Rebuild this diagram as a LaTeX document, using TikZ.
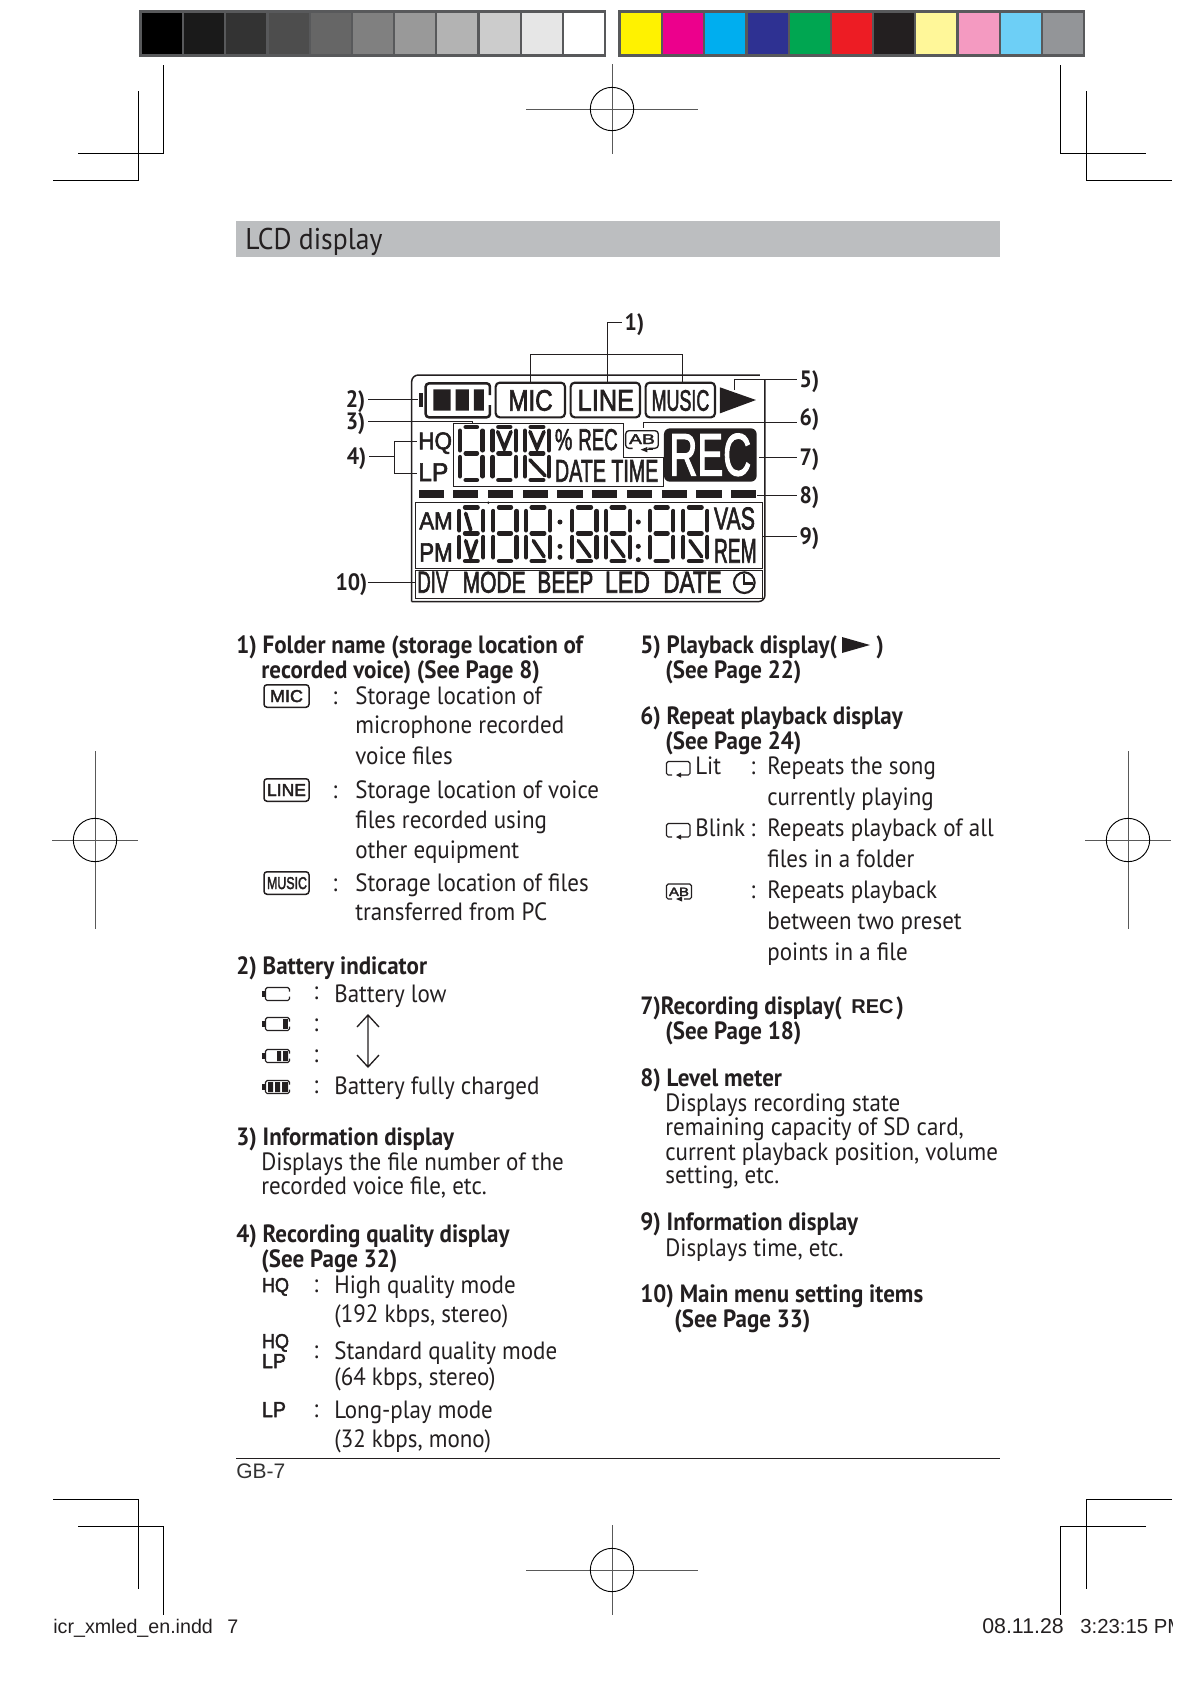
\documentclass[tikz,border=0pt]{standalone}
\usepackage{graphicx}
\usepackage{fontspec}
\setmainfont[FakeStretch=0.92]{PT Sans}
\newfontfamily\lcdf{Liberation Sans}
\newfontfamily\lcdb[FakeBold=2.4]{Liberation Sans}
\definecolor{ink}{HTML}{231F20}
\definecolor{frameg}{HTML}{58595B}
\definecolor{band}{HTML}{BCBEC0}
\newcount\nn
\tikzset{
  txt/.style={anchor=base west,inner sep=0pt,text=ink,font=\fontsize{15}{15}\selectfont},
  fit/.style={anchor=base,inner sep=0pt,text=ink,font=\lcdb},
  crop/.style={line width=0.55pt,black},
  regl/.style={line width=0.55pt,black!65},
  conn/.style={line width=0.6pt,ink},
  lab/.style={inner xsep=1.6pt,inner ysep=0pt,text height=10pt,text depth=0.2pt,text=ink,font=\fontsize{14.2}{14.2}\selectfont\bfseries},
  seg/.style={line width=2.6pt,line cap=round,ink},
  tseg/.style={line width=2.2pt,line cap=round,ink},
  lbox/.style={draw=ink,rounded corners=2.4pt,line width=1.3pt,inner sep=0pt},
  sbox/.style={draw=ink,rounded corners=1.8pt,line width=0.9pt,inner sep=0pt,minimum width=27pt,minimum height=13.5pt},
  icon/.style={line width=0.7pt,ink,rounded corners=1pt},
}
% text at baseline, page pixels
\newcommand{\TX}[3]{\global\advance\nn 1 \node[txt] (t\the\nn) at ({#1-1},{#2+1}) {#3};}
% text fitted to a box (in LCD units): x1, top, x2, baseline
\newcommand{\FT}[5]{\global\advance\nn 1 \node[fit] (t\the\nn) at ({(#1+#3)/2},#4) {\resizebox{\dimexpr 0.2pt*\numexpr#3-#1\relax\relax}{\dimexpr 0.2pt*\numexpr#4-#2\relax\relax}{#5}};}
% text fitted, page pixels
\newcommand{\FP}[5]{\global\advance\nn 1 \node[fit] (t\the\nn) at ({(#1+#3)/2},#4) {\resizebox{\dimexpr 0.6pt*\numexpr#3-#1\relax\relax}{\dimexpr 0.6pt*\numexpr#4-#2\relax\relax}{#5}};}
% 7-segment digit, LCD units: xl xr top mid bottom
\newcommand{\DG}[5]{%
  \draw[seg] (#1,#3+11) -- (#1,#4-9) (#1,#4+11) -- (#1,#5-11)
             (#2,#3+11) -- (#2,#4-9) (#2,#4+11) -- (#2,#5-11);
  \draw[seg] (#1+17,#3) -- (#2-17,#3) (#1+17,#4) -- (#2-17,#4) (#1+17,#5) -- (#2-17,#5);}
% battery icon, page pixels: left x, centre y
\newcommand{\BATT}[2]{%
  \fill[ink] (#1,#2-3) rectangle (#1+2.5,#2+3);
  \draw[icon] (#1+27.5,#2-2.5) -- (#1+27.5,#2-6.5) -- (#1+3.5,#2-6.5) -- (#1+3.5,#2+6.5) -- (#1+27.5,#2+6.5) -- (#1+27.5,#2+2.5);}
% repeat icon, page pixels
\newcommand{\RPT}[2]{%
  \draw[icon] (#1+6,#2+14) -- (#1+0.5,#2+14) -- (#1+0.5,#2+0.5) -- (#1+24,#2+0.5) -- (#1+24,#2+14) -- (#1+14,#2+14);
  \fill[ink] (#1+10,#2+14) -- (#1+15,#2+11.5) -- (#1+15,#2+16.5) -- cycle;}
\begin{document}
\begin{tikzpicture}[x=0.6pt,y=-0.6pt]
\useasboundingbox (0,0) rectangle (1191,1684);
% colour bars
\fill[frameg] (139,10) rectangle (606,57);
\fill[frameg] (618,10) rectangle (1085,57);
\foreach \c [count=\i from 0] in {000000,1A1A1A,333333,4D4D4D,666666,808080,999999,B3B3B3,CCCCCC,E6E6E6,FFFFFF}{
  \definecolor{sw}{HTML}{\c}\fill[sw] ({142+42.2*\i},13) rectangle ({182+42.2*\i},54);}
\foreach \c [count=\i from 0] in {FFF200,EC008C,00AEEF,2E3192,00A651,ED1C24,231F20,FFF799,F49AC1,6DCFF6,939598}{
  \definecolor{sw}{HTML}{\c}\fill[sw] ({621+42.2*\i},13) rectangle ({661+42.2*\i},54);}
% crop marks
\draw[crop] (163,65) -- (163,153) -- (78,153);
\draw[crop] (138,91) -- (138,180) -- (53,180);
\draw[crop] (1060,65) -- (1060,153) -- (1146,153);
\draw[crop] (1086,91) -- (1086,180) -- (1172,180);
\draw[crop] (53,1499) -- (138,1499) -- (138,1589);
\draw[crop] (78,1526) -- (163,1526) -- (163,1615);
\draw[crop] (1172,1499) -- (1086,1499) -- (1086,1589);
\draw[crop] (1146,1526) -- (1060,1526) -- (1060,1615);
% registration marks
\foreach \cx/\cy in {612/109,612/1570}{
  \draw[regl] (\cx-86,\cy) -- (\cx+86,\cy);
  \draw[regl] (\cx,\cy-45) -- (\cx,\cy+45);
  \draw[crop] (\cx,\cy) circle[radius=13pt];
}
\foreach \cx/\cy in {95/840,1128/840}{
  \draw[regl] (\cx-43,\cy) -- (\cx+43,\cy);
  \draw[regl] (\cx,\cy-89) -- (\cx,\cy+89);
  \draw[crop] (\cx,\cy) circle[radius=13pt];
}
% band
\fill[band] (236,221) rectangle (1000,257);
\TX{246}{248}{\fontsize{18}{18}\selectfont LCD display}
% LCD
\begin{scope}[shift={(192pt,-180pt)},x=0.2pt,y=-0.2pt]
  \draw[line width=0.9pt,ink,rounded corners=4pt] (275,905) -- (275,225) -- (1320,225);
  \draw[line width=0.9pt,ink,rounded corners=4pt] (1335,240) -- (1335,905) -- (275,905);
  % battery
  \fill[ink] (296,280) rectangle (310,320);
  \draw[line width=1.5pt,ink,rounded corners=2pt] (510,285) -- (510,250) -- (317,250) -- (317,352) -- (510,352) -- (510,315);
  \fill[ink] (340,268) rectangle (392,332) (407,268) rectangle (447,332) (462,268) rectangle (492,332);
  % folder boxes
  \node[lbox,minimum width=41.6pt,minimum height=20.8pt] (mic) at (631,300) {};
  \node[lbox,minimum width=41.6pt,minimum height=20.8pt] (line) at (856,300) {};
  \node[lbox,minimum width=41.6pt,minimum height=20.8pt] (music) at (1081,300) {};
  \FT{565}{270}{698}{332}{MIC}
  \FT{773}{270}{942}{332}{LINE}
  \FT{995}{270}{1168}{332}{MUSIC}
  \fill[ink] (1200,262) -- (1308,300) -- (1200,340) -- cycle;
  % text
  \FT{295}{397}{396}{448}{HQ}
  \FT{295}{490}{385}{543}{LP}
  \draw[line width=0.6pt,ink] (400,370) -- (910,370) -- (910,473) -- (1030,473) -- (1030,560) -- (400,560) -- cycle;
  \FT{705}{387}{757}{450}{\%}
  \FT{775}{387}{893}{450}{REC}
  \FT{705}{480}{1015}{545}{DATE TIME}
  % digits, info display
  \foreach \a/\b in {420/488,518/588,615/687}{\DG{\a}{\b}{381}{460}{540}}
  \draw[tseg] (533,395) -- (553,445) -- (573,395) (630,395) -- (651,445) -- (672,395) (630,480) -- (675,527);
  % AB
  \draw[line width=0.8pt,ink,rounded corners=2pt] (938,445) -- (917,445) -- (917,392) -- (1015,392) -- (1015,445) -- (985,445);
  \fill[ink] (962,449) -- (982,441) -- (982,457) -- cycle;
  \draw[line width=0.8pt,ink] (980,449) -- (1000,449);
  \global\advance\nn 1 \node[fit] (t\the\nn) at (966,432) {\resizebox{15.5pt}{5.8pt}{AB}};
  % REC
  \fill[ink,rounded corners=3.5pt] (1032,385) rectangle (1310,545);
  \global\advance\nn 1 \node[fit,text=white] (t\the\nn) at (1171,526) {\resizebox{49pt}{25pt}{REC}};
  % level meter
  \foreach \a/\b in {296/372,399/474,504/579,609/684,712/789,817/892,921/996,1027/1101,1129/1205,1233/1308}{\fill[ink] (\a,570) rectangle (\b,593);}
  % box 9
  \draw[line width=0.6pt,ink] (287,607) rectangle (1328,805);
  \FT{298}{637}{398}{688}{AM}
  \FT{298}{730}{398}{785}{PM}
  \FT{1182}{622}{1305}{688}{VAS}
  \FT{1182}{717}{1310}{788}{REM}
  \foreach \a/\b in {418/490,520/590,618/690,757/830,858/930,990/1060,1090/1162}{\DG{\a}{\b}{622}{700}{783}}
  \draw[tseg] (437,640) -- (452,690) (437,722) -- (452,772) -- (470,722)
     (640,722) -- (672,770) (775,722) -- (810,770) (877,722) -- (912,770) (1110,722) -- (1145,770);
  \fill[ink] (505,608) circle[radius=4] (720,666) circle[radius=7.5] (720,739) circle[radius=7.5] (720,772) circle[radius=7.5]
     (955,666) circle[radius=7.5] (955,739) circle[radius=7.5] (955,779) circle[radius=7.5];
  % box 10
  \draw[line width=0.6pt,ink] (287,812) -- (1328,812) -- (1328,895) -- (287,895) -- cycle;
  \FT{292}{815}{385}{878}{DIV}
  \FT{428}{815}{617}{878}{MODE}
  \FT{652}{815}{820}{878}{BEEP}
  \FT{855}{815}{990}{878}{LED}
  \FT{1030}{815}{1205}{878}{DATE}
  \draw[line width=1.3pt,ink] (1273,848) circle[radius=31];
  \draw[line width=1.4pt,ink] (1273,822) -- (1273,850) -- (1298,850);
  % callouts
  \node[lab,anchor=west] (l1) at (905,68) {1)};
  \node[lab,anchor=east] (l2) at (145,298) {2)};
  \node[lab,anchor=east] (l3) at (145,365) {3)};
  \node[lab,anchor=east] (l4) at (148,470) {4)};
  \node[lab,anchor=west] (l5) at (1430,238) {5)};
  \node[lab,anchor=west] (l6) at (1430,352) {6)};
  \node[lab,anchor=west] (l7) at (1430,472) {7)};
  \node[lab,anchor=west] (l8) at (1430,585) {8)};
  \node[lab,anchor=west] (l9) at (1430,708) {9)};
  \node[lab,anchor=east,inner xsep=0pt] (l10) at (143,848) {10)};
  \coordinate (c1a) at (632,245); \coordinate (c1b) at (862,245); \coordinate (c1c) at (1087,245);
  \coordinate (c2) at (295,298); \coordinate (c3) at (458,372); \coordinate (c4a) at (290,423); \coordinate (c4b) at (290,520);
  \coordinate (c5) at (1245,270); \coordinate (c6s) at (1430,367); \coordinate (c6) at (970,385); \coordinate (c7) at (1318,472); \coordinate (c8) at (1310,585); \coordinate (c9) at (1330,708); \coordinate (c10) at (285,848);
  \draw[conn] (l1.west) -| (c1b);
  \draw[conn] (c1a) -- (632,163) -- (1087,163) -- (c1c);
  \draw[conn] (l2.east) -- (c2);
  \draw[conn] (l3.east) -| (c3);
  \draw[conn] (l4.east) -- (225,470);
  \draw[conn] (c4a) -- (225,423) -- (225,520) -- (c4b);
  \draw[conn] (l5.west) -| (c5);
  \draw[conn] (c6s) -| (c6);
  \draw[conn] (l7.west) -- (c7);
  \draw[conn] (l8.west) -- (c8);
  \draw[conn] (l9.west) -- (c9);
  \draw[conn] (l10.east) -- (c10);
\end{scope}
% left column
\TX{237}{652}{\bfseries 1) Folder name (storage location of}
\TX{262}{677}{\bfseries recorded voice) (See Page 8)}
\node[sbox] (micb) at (286.5,696) {}; \FP{270}{690}{303}{702}{MIC}
\TX{333}{703}{:}\TX{356}{703}{Storage location of}
\TX{356}{732}{microphone recorded}
\TX{356}{763}{voice files}
\node[sbox] (lineb) at (286.5,790) {}; \FP{267}{784}{306}{796}{LINE}
\TX{333}{797}{:}\TX{356}{797}{Storage location of voice}
\TX{356}{827}{files recorded using}
\TX{356}{857}{other equipment}
\node[sbox] (musicb) at (286.5,883) {}; \FP{267}{877}{307}{889}{MUSIC}
\TX{333}{890}{:}\TX{356}{890}{Storage location of files}
\TX{356}{919}{transferred from PC}
\TX{237}{973}{\bfseries 2) Battery indicator}
\BATT{262}{994}\BATT{262}{1024}\BATT{262}{1056}\BATT{262}{1087}
\fill[ink] (283,1019) rectangle (288,1029);
\fill[ink] (277,1051) rectangle (281,1061) (283,1051) rectangle (288,1061);
\fill[ink] (268,1082) rectangle (273,1092) (275,1082) rectangle (280,1092) (282,1082) rectangle (288,1092);
\TX{314}{998}{:}\TX{314}{1030}{:}\TX{314}{1061}{:}\TX{314}{1092}{:}
\TX{335}{1001}{Battery low}
\TX{335}{1093}{Battery fully charged}
\coordinate (au) at (368,1015); \coordinate (ad) at (368,1067);
\draw[line width=0.8pt,ink] (au) -- (ad) (357,1027) -- (au) -- (379,1027) (357,1055) -- (ad) -- (379,1055);
\TX{237}{1144}{\bfseries 3) Information display}
\TX{262}{1169}{Displays the file number of the}
\TX{262}{1193}{recorded voice file, etc.}
\TX{237}{1241}{\bfseries 4) Recording quality display}
\TX{262}{1266}{\bfseries (See Page 32)}
\FP{262}{1278}{289}{1292}{HQ}
\TX{314}{1291}{:}\TX{335}{1292}{High quality mode}
\TX{335}{1321}{(192 kbps, stereo)}
\FP{262}{1334}{289}{1348}{HQ}
\FP{262}{1354}{286}{1368}{LP}
\TX{314}{1357}{:}\TX{335}{1358}{Standard quality mode}
\TX{335}{1384}{(64 kbps, stereo)}
\FP{262}{1402}{286}{1417}{LP}
\TX{314}{1416}{:}\TX{335}{1417}{Long-play mode}
\TX{335}{1446}{(32 kbps, mono)}
\draw[line width=0.6pt,ink] (236,1458) -- (1000,1458);
\global\advance\nn 1 \node[txt,font=\lcdf\fontsize{12.6}{12.6}\selectfont,text=black!80] (t\the\nn) at (236,1478) {GB-7};
% right column
\TX{641}{652}{\bfseries 5) Playback display(}
\fill[ink] (842,637) -- (870,645) -- (842,653) -- cycle;
\TX{877}{652}{\bfseries )}
\TX{666}{677}{\bfseries (See Page 22)}
\TX{641}{723}{\bfseries 6) Repeat playback display}
\TX{666}{748}{\bfseries (See Page 24)}
\RPT{666}{761}
\TX{696}{773}{Lit}\TX{751}{773}{:}\TX{768}{773}{Repeats the song}
\TX{768}{804}{currently playing}
\RPT{666}{823}
\TX{696}{835}{Blink}\TX{751}{835}{:}\TX{768}{835}{Repeats playback of all}
\TX{768}{866}{files in a folder}
\draw[icon] (672,899) -- (666.5,899) -- (666.5,884) -- (691.5,884) -- (691.5,899) -- (684,899);
\fill[ink] (676,899) -- (682,896.5) -- (682,901.5) -- cycle;
\global\advance\nn 1 \node[fit] (t\the\nn) at (679,896) {\resizebox{12pt}{5pt}{AB}};
\TX{751}{897}{:}\TX{768}{897}{Repeats playback}
\TX{768}{928}{between two preset}
\TX{768}{959}{points in a file}
\TX{641}{1013}{\bfseries 7)Recording display(}
\global\advance\nn 1 \node[txt,font=\lcdf\bfseries\fontsize{12}{12}\selectfont] (t\the\nn) at (851,1013) {REC};
\TX{897}{1013}{\bfseries )}
\TX{666}{1038}{\bfseries (See Page 18)}
\TX{641}{1085}{\bfseries 8) Level meter}
\TX{666}{1110}{Displays recording state}
\TX{666}{1134}{remaining capacity of SD card,}
\TX{666}{1159}{current playback position, volume}
\TX{666}{1182}{setting, etc.}
\TX{641}{1229}{\bfseries 9) Information display}
\TX{666}{1255}{Displays time, etc.}
\TX{641}{1301}{\bfseries 10) Main menu setting items}
\TX{675}{1326}{\bfseries (See Page 33)}
% slug
\global\advance\nn 1 \node[txt,font=\lcdf\fontsize{11.8}{11.8}\selectfont] (t\the\nn) at (53,1633) {icr\_xmled\_en.indd};
\global\advance\nn 1 \node[txt,font=\lcdf\fontsize{11.8}{11.8}\selectfont] (t\the\nn) at (227,1633) {7};
\begin{scope}
\clip (900,1600) rectangle (1172,1660);
\global\advance\nn 1 \node[txt,font=\lcdf\fontsize{12.8}{12.8}\selectfont] (t\the\nn) at (982,1633) {08.11.28};
\global\advance\nn 1 \node[txt,font=\lcdf\fontsize{12.2}{12.2}\selectfont] (t\the\nn) at (1080,1633) {3:23:15 PM};
\end{scope}
\end{tikzpicture}
\end{document}
